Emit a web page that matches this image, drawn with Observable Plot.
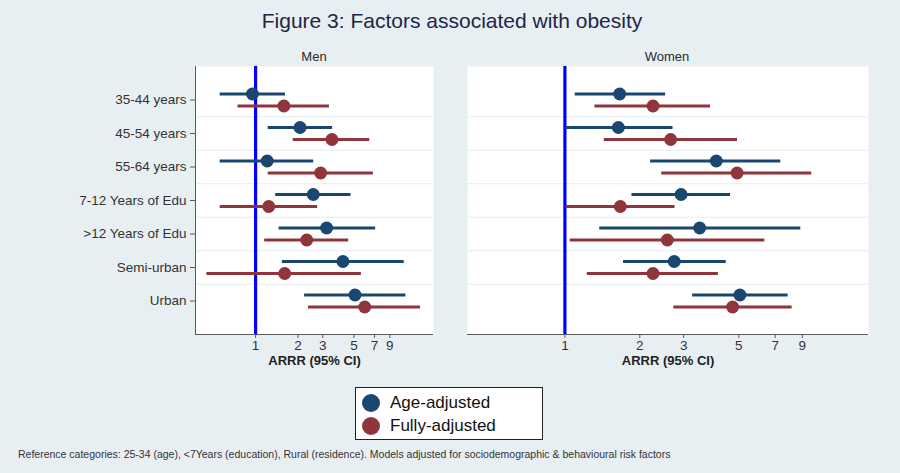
<!DOCTYPE html>
<html>
<head>
<meta charset="utf-8">
<script src="https://cdn.jsdelivr.net/npm/d3@7"></script>
<script src="https://cdn.jsdelivr.net/npm/@observablehq/plot@0.6"></script>
<style>
  html, body { margin: 0; padding: 0; background: #e8eff3; }
  #wrap { position: relative; width: 900px; height: 473px; background: #e8eff3; font-family: "Liberation Sans", Arial, sans-serif; overflow: hidden; }
  .abs { position: absolute; }
  #title { left: 0; width: 904px; top: 9px; text-align: center; font-size: 21px; color: #1c2747; }
  .ptitle { top: 49px; font-size: 13px; color: #2a2a2a; transform: translateX(-50%); white-space: nowrap; }
  #legend { left: 355px; top: 387px; width: 186px; height: 51px; border: 1px solid #222; background: #ffffff; }
  .lg { position: absolute; left: 6px; display: flex; align-items: center; font-size: 17px; color: #111; line-height: 20px; }
  .lg span.c { display: inline-block; width: 18px; height: 18px; border-radius: 50%; margin-right: 10px; }
  #foot { left: 18px; top: 448px; font-size: 10.5px; color: #333; white-space: nowrap; }
</style>
</head>
<body>
<div id="wrap">
  <div id="title" class="abs">Figure 3: Factors associated with obesity</div>
  <div class="abs ptitle" style="left:314px">Men</div>
  <div class="abs ptitle" style="left:667px">Women</div>
  <div id="men" class="abs" style="left:0px; top:60px;"></div>
  <div id="women" class="abs" style="left:450px; top:60px;"></div>
  <div id="legend" class="abs">
    <div class="lg" style="top:5px"><span class="c" style="background:#1a476f"></span>Age-adjusted</div>
    <div class="lg" style="top:28px"><span class="c" style="background:#90353b"></span>Fully-adjusted</div>
  </div>
  <div id="foot" class="abs">Reference categories: 25-34 (age), &lt;7Years (education), Rural (residence). Models adjusted for sociodemographic &amp; behavioural risk factors</div>
</div>
<script>
// ---- data ----
const rows = ["35-44 years", "45-54 years", "55-64 years", "7-12 Years of Edu", ">12 Years of Edu", "Semi-urban", "Urban"];
const xTicks = [1, 2, 3, 5, 7, 9];

const menAgeEst  = [0.95, 2.07, 1.21, 2.57, 3.20, 4.18, 5.09];
const menAgeLo   = [0.56, 1.23, 0.56, 1.39, 1.47, 1.55, 2.23];
const menAgeHi   = [1.63, 3.53, 2.59, 4.77, 7.14, 11.4, 11.7];
const menFullEst = [1.59, 3.49, 2.90, 1.24, 2.31, 1.61, 5.97];
const menFullLo  = [0.75, 1.85, 1.23, 0.56, 1.16, 0.45, 2.38];
const menFullHi  = [3.35, 6.48, 6.88, 2.76, 4.59, 5.65, 14.9];

const womenAgeEst  = [1.66, 1.64, 4.06, 2.93, 3.48, 2.75, 5.05];
const womenAgeLo   = [1.10, 1.01, 2.21, 1.86, 1.38, 1.72, 3.26];
const womenAgeHi   = [2.54, 2.72, 7.37, 4.63, 8.87, 4.45, 7.89];
const womenFullEst = [2.26, 2.66, 4.92, 1.67, 2.58, 2.26, 4.72];
const womenFullLo  = [1.32, 1.44, 2.45, 1.01, 1.05, 1.23, 2.74];
const womenFullHi  = [3.85, 4.94, 9.82, 2.77, 6.36, 4.14, 8.19];

const menDomain = [0.374, 18.4];
const womenDomain = [0.406, 16.6];

const navy = "#1a476f", maroon = "#90353b";

function build(est, lo, hi) {
  return rows.map((r, i) => ({row: i + 1, label: r, est: est[i], lo: lo[i], hi: hi[i]}));
}

function panel({domain, age, full, showY, width, marginLeft, marginRight}) {
  const n1 = rows.length + 1;
  const gridVals = d3.range(1, rows.length).map(i => i + 0.5);
  const marks = [
    Plot.frame({fill: "white", stroke: null}),
    Plot.ruleY(gridVals, {stroke: "#e3ebef", strokeWidth: 1}),
    Plot.ruleX([1], {stroke: "#0000ff", strokeWidth: 3.2}),
    Plot.ruleY(age, {y: "row", x1: "lo", x2: "hi", dy: -6, stroke: navy, strokeWidth: 3}),
    Plot.dot(age, {x: "est", y: "row", dy: -6, r: 6.5, fill: navy}),
    Plot.ruleY(full, {y: "row", x1: "lo", x2: "hi", dy: 6, stroke: maroon, strokeWidth: 3}),
    Plot.dot(full, {x: "est", y: "row", dy: 6, r: 6.5, fill: maroon}),
    Plot.ruleY([n1], {stroke: "#5a5a5a", strokeWidth: 1}),
    Plot.ruleX(xTicks, {x: d => d, y1: n1, y2: n1, insetTop: 0, insetBottom: -4, stroke: "#5a5a5a"}),
    Plot.text(xTicks, {x: d => d, text: d => String(d), frameAnchor: "bottom", dy: 15, fontSize: 13.5, fill: "#333"}),
    Plot.text(["ARRR (95% CI)"], {text: d => d, frameAnchor: "bottom", dy: 30, fontWeight: "bold", fontSize: 13, fill: "#222"})
  ];
  if (showY) {
    marks.push(Plot.ruleX([domain[0]], {stroke: "#5a5a5a", strokeWidth: 1}));
    marks.push(Plot.axisY({ticks: d3.range(1, rows.length + 1), tickFormat: i => rows[i - 1], tickSize: 5, tickPadding: 4, label: null, fontSize: 13.5, stroke: "#5a5a5a"}));
  }
  return Plot.plot({
    width, height: 315,
    marginLeft, marginRight, marginTop: 6, marginBottom: 41,
    style: {background: "transparent", fontFamily: "'Liberation Sans', Arial, sans-serif", fontSize: "13.5px", color: "#333", overflow: "visible"},
    x: {type: "log", domain, axis: null},
    y: {domain: [0, n1], reverse: true, axis: null},
    marks
  });
}

document.getElementById("men").appendChild(panel({
  domain: menDomain,
  age: build(menAgeEst, menAgeLo, menAgeHi),
  full: build(menFullEst, menFullLo, menFullHi),
  showY: true, width: 440, marginLeft: 195, marginRight: 7
}));
document.getElementById("women").appendChild(panel({
  domain: womenDomain,
  age: build(womenAgeEst, womenAgeLo, womenAgeHi),
  full: build(womenFullEst, womenFullLo, womenFullHi),
  showY: false, width: 425, marginLeft: 17, marginRight: 7
}));
</script>
</body>
</html>
